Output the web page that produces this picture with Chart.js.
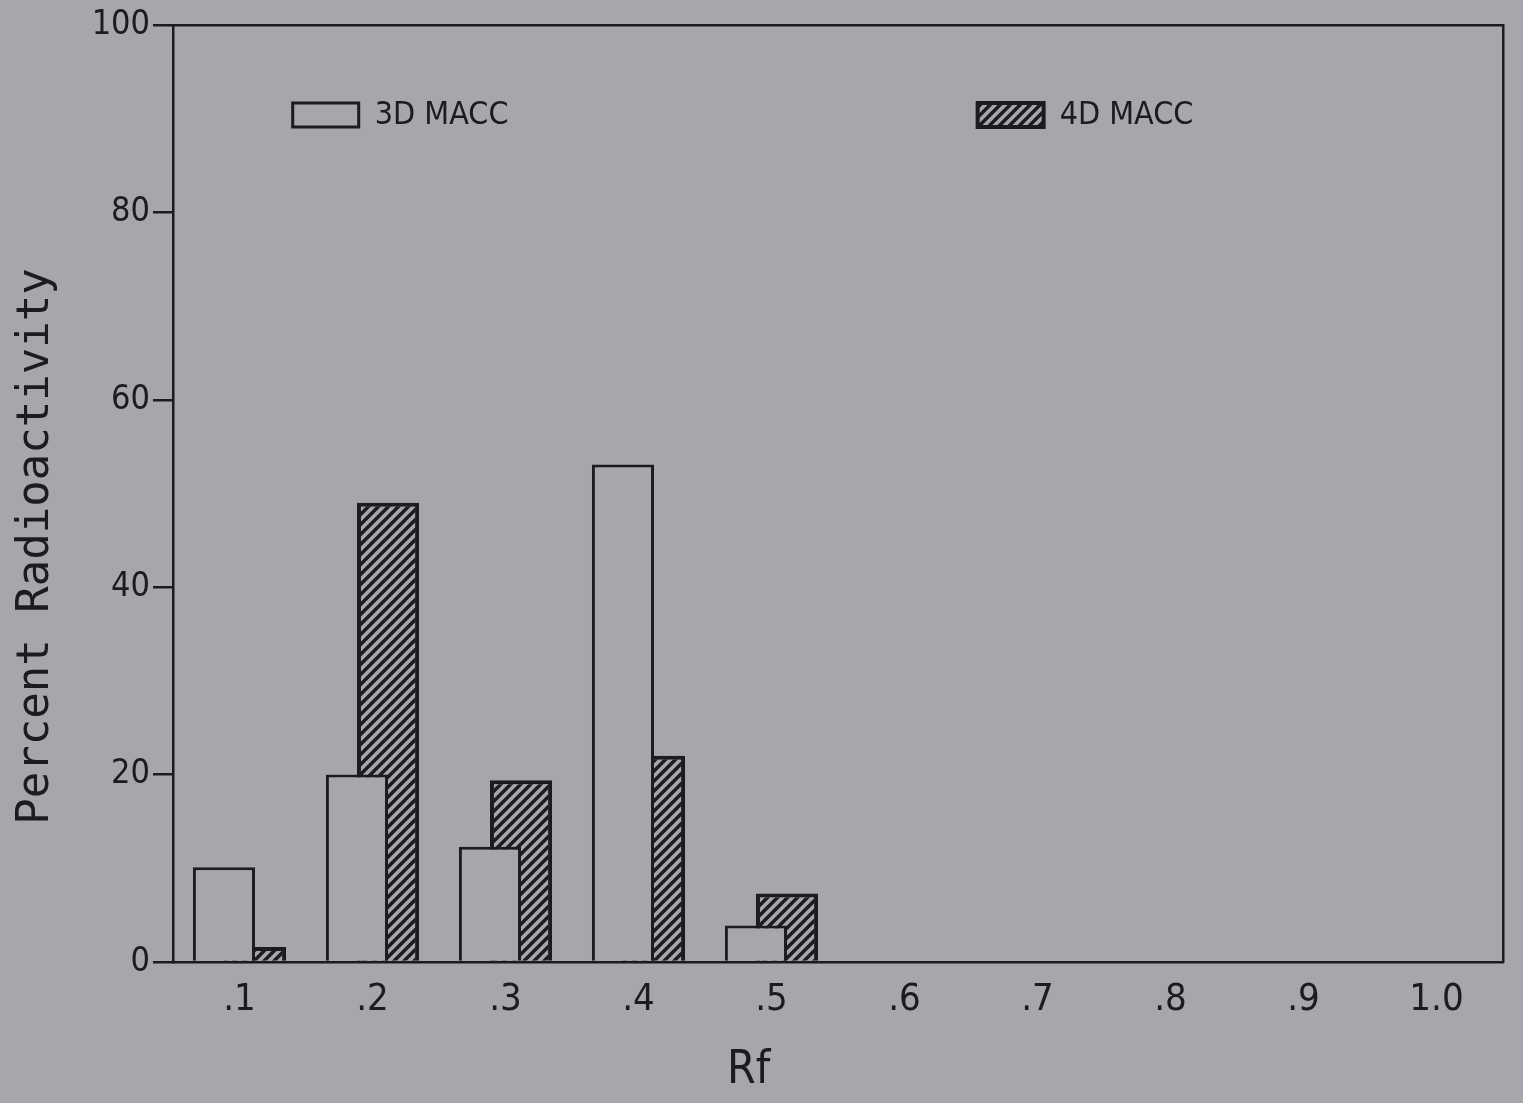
<!DOCTYPE html>
<html>
<head>
<meta charset="utf-8">
<title>Percent Radioactivity by Rf</title>
<script src="https://cdn.jsdelivr.net/npm/chart.js@4.4.1/dist/chart.umd.min.js"></script>
<style>
    html, body { margin: 0; padding: 0; background: #a6a7ad; }
    #wrap { width: 1523px; height: 1103px; }
</style>
</head>
<body>
<div id="wrap"><canvas id="chart"></canvas></div>
<script>
// Chart data
const rfLabels = ['.1', '.2', '.3', '.4', '.5', '.6', '.7', '.8', '.9', '1.0'];
const macc3d = [10.1, 20, 12.3, 53.1, 3.9, null, null, null, null, null];
const macc4d = [1.6, 49, 19.4, 22, 7.3, null, null, null, null, null];
const yTickValues = [0, 20, 40, 60, 80, 100];
const seriesNames = ['3D MACC', '4D MACC'];

const paper = '#a6a7ad';
const ink = '#1c1c1e';
const narrowFont = "'Liberation Sans Narrow', 'DejaVu Sans Condensed', 'DejaVu Sans Mono', sans-serif";
const monoFont = "'DejaVu Sans Mono', 'Liberation Mono', monospace";

// Diagonal hatch fill used by the 4D bars
function makeHatch() {
    const n = 10;
    const c = document.createElement('canvas');
    c.width = n;
    c.height = n;
    const g = c.getContext('2d');
    g.fillStyle = ink;
    g.fillRect(0, 0, n, n);
    g.strokeStyle = paper;
    g.lineWidth = 3.6;
    g.beginPath();
    g.moveTo(-2, n + 2); g.lineTo(n + 2, -2);
    g.moveTo(-2, 2); g.lineTo(2, -2);
    g.moveTo(n - 2, n + 2); g.lineTo(n + 2, n - 2);
    g.stroke();
    return g.createPattern(c, 'repeat');
}
const hatch = makeHatch();

// Legend keys sit inside the plot, far apart, like the original
const keyLegend = {
    id: 'keyLegend',
    afterDraw(chart) {
        const { ctx, chartArea } = chart;
        const starts = [0.09, 0.605]; // fraction of plot width where each key starts
        ctx.save();
        chart.data.datasets.forEach((ds, i) => {
            const x = chartArea.left + starts[i] * chartArea.width;
            const y = chartArea.top + 90;
            ctx.fillStyle = ds.backgroundColor;
            ctx.fillRect(x, y - 12, 66, 24);
            ctx.lineWidth = ds.borderWidth;
            ctx.strokeStyle = ink;
            ctx.strokeRect(x, y - 12, 66, 24);
            ctx.fillStyle = ink;
            ctx.font = '32px ' + narrowFont;
            ctx.textBaseline = 'middle';
            ctx.fillText(ds.label, x + 82, y + 1);
        });
        ctx.restore();
    }
};

const frameAxis = {
    display: true,
    ticks: { display: false },
    grid: { display: false },
    border: { display: true, color: ink, width: 2.5 },
    afterFit: s => { s.width = 0; s.height = 0; }
};

new Chart(document.getElementById('chart'), {
    type: 'bar',
    data: {
        labels: rfLabels,
        datasets: [
            {
                label: seriesNames[0],
                data: macc3d,
                backgroundColor: paper,
                borderColor: ink,
                borderWidth: 3
            },
            {
                label: seriesNames[1],
                data: macc4d,
                backgroundColor: hatch,
                borderColor: ink,
                borderWidth: 4
            }
        ]
    },
    options: {
        responsive: true,
        maintainAspectRatio: false,
        animation: false,
        categoryPercentage: 0.467,
        barPercentage: 2,
        layout: { padding: { top: 25, right: 20, bottom: 0, left: 0 } },
        plugins: {
            legend: { display: false },
            tooltip: { enabled: false }
        },
        scales: {
            x: {
                grid: { display: false },
                border: { display: true, color: ink, width: 2.5 },
                ticks: { color: ink, padding: 7, font: { family: narrowFont, size: 38 } },
                title: {
                    display: true,
                    text: 'Rf\u2003\u2003\u2003\u2003 ',
                    color: ink,
                    font: { family: narrowFont, size: 46 },
                    padding: { top: 0, bottom: 4 }
                },
                afterFit: s => { s.height = 141; }
            },
            y: {
                min: 0,
                max: 100,
                afterBuildTicks: s => { s.ticks = yTickValues.map(v => ({ value: v })); },
                grid: {
                    display: true,
                    drawOnChartArea: false,
                    drawTicks: true,
                    tickLength: 20,
                    tickColor: ink,
                    lineWidth: 2.5
                },
                border: { display: true, color: ink, width: 2.5 },
                ticks: { color: ink, padding: 3, font: { family: narrowFont, size: 34 } },
                title: {
                    display: true,
                    text: 'Percent Radioactivity    ',
                    color: ink,
                    font: { family: monoFont, size: 44 },
                    padding: { top: 10, bottom: 0 }
                },
                afterFit: s => { s.width = 173; }
            },
            xTop: Object.assign({ position: 'top' }, frameAxis),
            yRight: Object.assign({ position: 'right' }, frameAxis)
        }
    },
    plugins: [keyLegend]
});
</script>
</body>
</html>
